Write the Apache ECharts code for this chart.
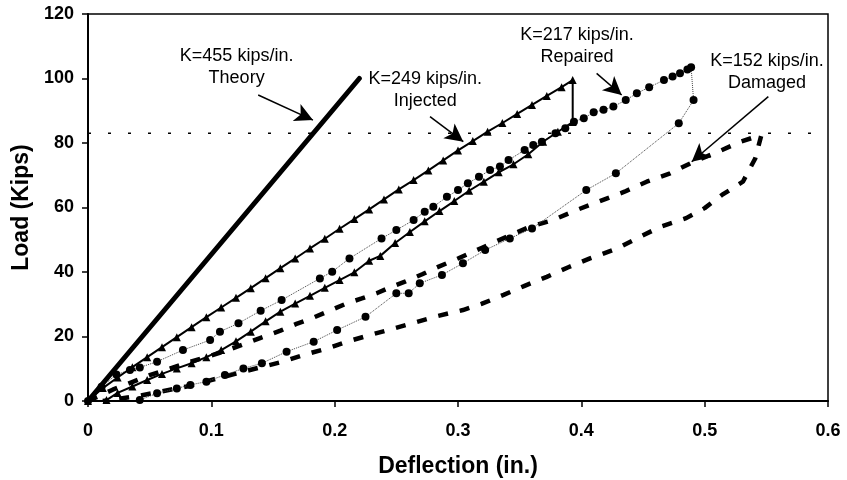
<!DOCTYPE html>
<html>
<head>
<meta charset="utf-8">
<script src="https://cdn.jsdelivr.net/npm/echarts@6/dist/echarts.min.js"></script>
<style>html,body{margin:0;padding:0;background:#fff}#c{width:847px;height:480px}</style>
</head>
<body>
<div id="c"></div>
<script>
// ---- data (deflection in., load kips) ----
const xTicks = [0, 0.1, 0.2, 0.3, 0.4, 0.5, 0.6];
const yTicks = [0, 20, 40, 60, 80, 100, 120];

const theoryX = [0, 0.22];
const theoryY = [0, 100];

const injectedX = [0, 0.012, 0.024, 0.036, 0.048, 0.06, 0.072, 0.084, 0.096, 0.108, 0.12, 0.132, 0.144, 0.156, 0.168, 0.18, 0.192, 0.204, 0.216, 0.228, 0.24, 0.252, 0.264, 0.276, 0.288, 0.30, 0.312, 0.324, 0.336, 0.348, 0.36, 0.372, 0.384, 0.393,
  0.393, 0.381, 0.369, 0.357, 0.345, 0.333, 0.321, 0.309, 0.297, 0.285, 0.273, 0.261, 0.249, 0.237, 0.228, 0.216, 0.204, 0.192, 0.18, 0.168, 0.156, 0.144, 0.132, 0.12, 0.108, 0.096, 0.084, 0.072, 0.06, 0.048, 0.036, 0.024, 0.015];
const injectedY = [0, 4, 7.3, 10.5, 13.6, 16.7, 19.8, 22.9, 26, 29, 32, 35, 38.1, 41.2, 44.2, 47.3, 50.3, 53.4, 56.4, 59.4, 62.5, 65.6, 68.5, 71.5, 74.6, 77.7, 80.6, 83.5, 86.2, 89, 91.8, 94.6, 97.3, 99.5,
  86.5, 83.5, 80.4, 76.5, 73.4, 70.9, 68, 65.2, 62, 58.9, 55.7, 52.4, 49, 45, 43.5, 39.9, 37.5, 35.1, 32.6, 30.2, 27.7, 24.7, 21.5, 18.5, 15.8, 13.6, 11.7, 10.1, 8.4, 6.5, 4.5, 2.5, 0.3];

const repairedX = [0, 0.011, 0.023, 0.034, 0.042, 0.056, 0.077, 0.099, 0.107, 0.122, 0.14, 0.157, 0.188, 0.198, 0.212, 0.238, 0.25, 0.264, 0.273, 0.28, 0.291, 0.3, 0.308, 0.317, 0.326, 0.334, 0.341, 0.354, 0.361, 0.368, 0.379, 0.387, 0.394, 0.402, 0.41, 0.418, 0.426, 0.436, 0.445, 0.455, 0.467, 0.474, 0.48, 0.486, 0.489,
  0.491, 0.479, 0.428, 0.404, 0.36, 0.342, 0.322, 0.304, 0.287, 0.269, 0.26, 0.25, 0.225, 0.202, 0.183, 0.161, 0.141, 0.126, 0.111, 0.096, 0.083, 0.072, 0.056, 0.042];
const repairedY = [0, 4.4, 8.2, 9.6, 10.4, 12.2, 15.8, 18.9, 21.5, 24.1, 28, 31.3, 38, 40.1, 44.2, 50.4, 53, 56.1, 58.7, 60.2, 63.3, 65.4, 67.5, 69.5, 71.6, 72.7, 74.7, 77.8, 79.4, 80.4, 83, 84.6, 86.6, 87.7, 89.5, 90.3, 91.3, 93.3, 95.4, 97.3, 99.5, 100.6, 101.6, 102.8, 103.5,
  93.3, 86.1, 70.6, 65.4, 53.5, 50.4, 46.8, 42.7, 39.1, 36.5, 33.4, 33.4, 26.1, 22, 18.4, 15.3, 11.7, 10.1, 8.1, 6, 5, 3.9, 2.4, 0.3];

const damagedX = [0, 0.02, 0.05, 0.08, 0.11, 0.14, 0.156, 0.169, 0.183, 0.196, 0.21, 0.222, 0.234, 0.246, 0.257, 0.271, 0.281, 0.30, 0.32, 0.34, 0.358, 0.377, 0.396, 0.414, 0.435, 0.453, 0.472, 0.49, 0.511, 0.529, 0.546,
  0.541, 0.531, 0.514, 0.5, 0.485, 0.464, 0.448, 0.429, 0.407, 0.389, 0.372, 0.354, 0.337, 0.319, 0.304, 0.284, 0.248, 0.229, 0.21, 0.194, 0.175, 0.158, 0.12, 0.08, 0.04, 0.012];
const damagedY = [0, 3.5, 8, 11.8, 15.3, 19.6, 21.8, 23.9, 25.9, 28, 30.3, 31.8, 33.4, 35.4, 37, 39.3, 41.1, 44.2, 47.6, 51, 54, 56.1, 59.2, 61.8, 64.9, 68, 70.6, 74, 77.3, 80.4, 82.5,
  75.2, 68, 63.9, 59.8, 56.7, 54, 51, 47.3, 44.2, 41.4, 38.5, 35.7, 32.9, 30.1, 28.2, 26.4, 22.5, 20.5, 18.4, 16.3, 14.3, 12.2, 8.5, 4.5, 1.5, 0];

const refLoad = 83; // horizontal dotted reference line

// annotations: text, anchor (data coords)
const noteTexts = ['K=455 kips/in.\nTheory', 'K=249 kips/in.\nInjected', 'K=217 kips/in.\nRepaired', 'K=152 kips/in.\nDamaged'];
const noteX = [0.1205, 0.2735, 0.3965, 0.5505];
const noteY = [103.6, 96.4, 110.1, 102.0];
// arrows: [startX, startY, endX, endY]
const arrowFromX = [0.138, 0.2773, 0.4124, 0.5516];
const arrowFromY = [94.9, 88.2, 101.6, 94.4];
const arrowToX = [0.1824, 0.3043, 0.4327, 0.4895];
const arrowToY = [87.1, 80.4, 94.9, 74.2];

const zip = (xs, ys) => xs.map((x, i) => [x, ys[i]]);
const FONT = '"Liberation Sans", Arial, Helvetica, sans-serif';

const chart = echarts.init(document.getElementById('c'), null, {renderer: 'canvas'});
chart.setOption({
  animation: false,
  backgroundColor: '#fff',
  grid: {left: 88, right: 19, top: 14, bottom: 79, containLabel: false, outerBoundsMode: 'none',
    show: true, borderColor: '#000', borderWidth: 1.5, backgroundColor: 'transparent'},
  xAxis: {
    type: 'value', min: xTicks[0], max: xTicks[xTicks.length - 1], interval: 0.1,
    name: 'Deflection (in.)', nameLocation: 'middle', nameGap: 54,
    nameTextStyle: {fontFamily: FONT, fontWeight: 'bold', fontSize: 23, color: '#000'},
    axisLine: {lineStyle: {color: '#000', width: 2}},
    axisTick: {show: true, inside: false, length: 6, lineStyle: {color: '#000', width: 1.5}},
    axisLabel: {fontFamily: FONT, fontWeight: 'bold', fontSize: 18, color: '#000', margin: 21,
      formatter: v => (v === 0 ? '0' : v.toFixed(1))},
    splitLine: {show: false}
  },
  yAxis: {
    type: 'value', min: yTicks[0], max: yTicks[yTicks.length - 1], interval: 20,
    name: 'Load (Kips)', nameLocation: 'middle', nameGap: 48, nameRotate: 90,
    nameTextStyle: {fontFamily: FONT, fontWeight: 'bold', fontSize: 23, color: '#000'},
    axisLine: {lineStyle: {color: '#000', width: 2}},
    axisTick: {show: true, inside: false, length: 6, lineStyle: {color: '#000', width: 1.5}},
    axisLabel: {fontFamily: FONT, fontWeight: 'bold', fontSize: 18, color: '#000', margin: 14},
    splitLine: {show: false}
  },
  series: [
    {
      name: 'ref', type: 'line', data: [[xTicks[0], refLoad], [xTicks[xTicks.length - 1], refLoad]],
      showSymbol: false, lineStyle: {color: '#000', width: 1.5, type: [3, 17]}, z: 1
    },
    {
      name: 'Damaged', type: 'line', data: zip(damagedX, damagedY), showSymbol: false,
      lineStyle: {color: '#000', width: 4.5, type: [10, 12]}, z: 2
    },
    {
      name: 'Repaired', type: 'line', data: zip(repairedX, repairedY), symbol: 'circle', symbolSize: 8,
      showSymbol: true, itemStyle: {color: '#000'},
      lineStyle: {color: '#444', width: 1, type: 'dotted'}, z: 3
    },
    {
      name: 'Injected', type: 'line', data: zip(injectedX, injectedY), symbol: 'triangle', symbolSize: 8,
      showSymbol: true, itemStyle: {color: '#000'},
      lineStyle: {color: '#000', width: 2}, z: 4
    },
    {
      name: 'Theory', type: 'line', data: zip(theoryX, theoryY), showSymbol: false,
      lineStyle: {color: '#000', width: 5, cap: 'round'}, z: 5,
      markPoint: {
        symbol: 'circle', symbolSize: 1, itemStyle: {color: 'rgba(0,0,0,0)'},
        label: {show: true, position: 'inside', fontFamily: FONT, fontSize: 18, color: '#000', lineHeight: 22, align: 'center'},
        data: noteTexts.map((t, i) => ({coord: [noteX[i], noteY[i]], value: t, label: {formatter: t}}))
      },
      markLine: {
        silent: true, symbol: ['none', 'arrow'], symbolSize: [14, 18],
        label: {show: false},
        lineStyle: {color: '#000', width: 1.5, type: 'solid'},
        data: arrowFromX.map((x, i) => [{coord: [x, arrowFromY[i]]}, {coord: [arrowToX[i], arrowToY[i]]}])
      }
    }
  ]
});
</script>
</body>
</html>
